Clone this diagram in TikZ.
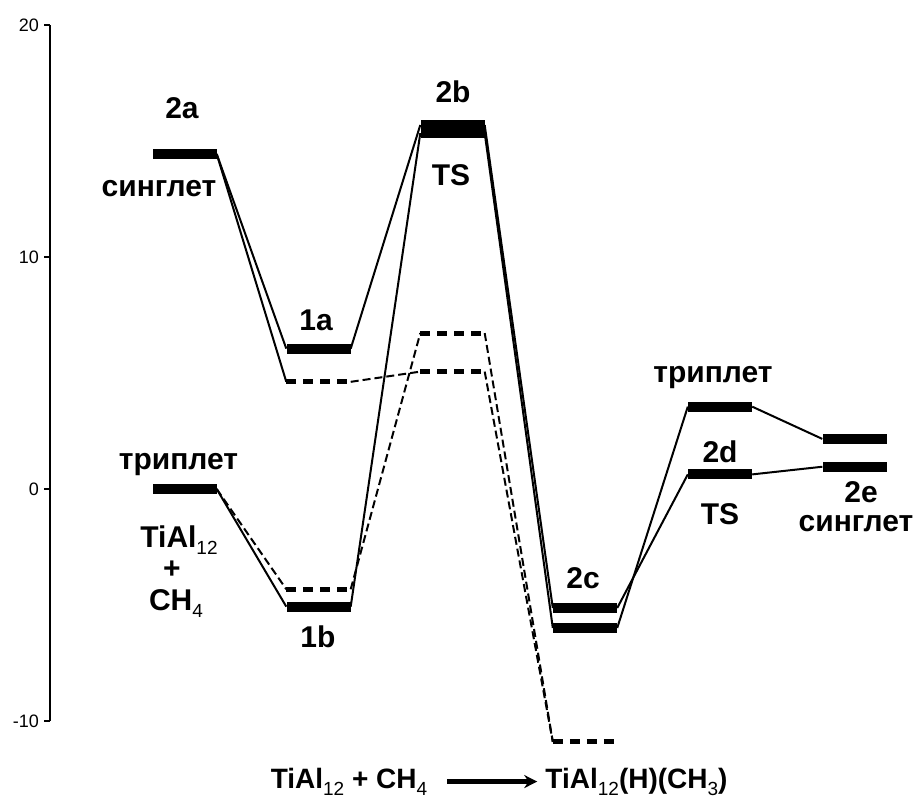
\documentclass[tikz,border=0pt]{standalone}
\usepackage{fontspec}
\setmainfont{Liberation Sans}
\usetikzlibrary{arrows.meta,positioning}
\newcommand{\ssub}[1]{\raisebox{-7pt}{\fontsize{19}{19}\selectfont\mdseries #1}}
\tikzset{
  lev/.style={fill=black,minimum width=64pt,minimum height=10pt,inner sep=0pt},
  dlev/.style={minimum width=64pt,minimum height=0pt,inner sep=0pt},
  dseg/.style={line width=5pt,dash pattern=on 10pt off 7pt},
  con/.style={line width=2pt},
  dcon/.style={line width=2pt,dash pattern=on 8pt off 4pt},
  lbl/.style={font=\fontsize{30}{31}\selectfont\bfseries,anchor=base,inner sep=0pt},
  tk/.style={font=\fontsize{18}{18}\selectfont,anchor=east,inner sep=0pt},
  rarr/.style={-{Stealth[length=13pt,width=13pt]},line width=4.5pt}
}
\begin{document}
\begin{tikzpicture}[x=1pt,y=23.2pt]
\useasboundingbox (0,-13.534) rectangle (920,21.078);
% energy axis
\draw[line width=1.2pt] (50,20) -- (50,-10);
\foreach \v in {20,10,0,-10} {
  \draw[line width=1.2pt] (44,\v) -- (50,\v);
  \node[tk] (tk\v) at (39,\v) {\v};
}
% levels
\foreach \n/\x/\y in {n2a/184.5/14.44, n0/184.5/0, n1a/318.5/6.05, n1b/318.5/-5.07, n2bu/452.5/15.69, n2bl/452.5/15.34, n2cu/585/-5.13, n2cl/585/-5.99, n3t/720/3.55, n2d/720/0.63, n2eu/854.5/2.16, n2el/854.5/0.96}
  \node[lev] (\n) at (\x,\y) {};
\foreach \n/\x/\y in {d1a/318.5/4.62, d1b/318.5/-4.32, dtu/452.5/6.72, dtl/452.5/5.06, dbot/585/-10.9}
  \node[dlev] (\n) at (\x,\y) {};
\foreach \n in {d1a,d1b,dtu,dtl,dbot} \draw[dseg] (\n.west) -- (\n.east);
% pathways
\draw[con] (n2a.east) -- (n1a.west);
\draw[con] (n2a.east) -- (d1a.west);
\draw[con] (n0.east) -- (n1b.west);
\draw[dcon] (n0.east) -- (d1b.west);
\draw[con] (n1a.east) -- (n2bu.west);
\draw[con] (n1b.east) -- (n2bl.west);
\draw[dcon] (d1a.east) -- (dtl.west);
\draw[dcon] (d1b.east) -- (dtu.west);
\draw[con] (n2bu.east) -- (n2cu.west);
\draw[con] (n2bl.east) -- (n2cl.west);
\draw[dcon] (dtu.east) -- (dbot.west);
\draw[dcon] (dtl.east) -- (dbot.west);
\draw[con] (n2cu.east) -- (n2d.west);
\draw[con] (n2cl.east) -- (n3t.west);
\draw[con] (n3t.east) -- (n2eu.west);
\draw[con] (n2d.east) -- (n2el.west);
% labels
\node[lbl] (l2a) at (182,15.99) {2a};
\node[lbl] (ls1) at (159,12.59) {синглет};
\node[lbl] (l1a) at (316,6.85) {1a};
\node[lbl] (l2b) at (453,16.64) {2b};
\node[lbl] (lts1) at (451,13.1) {TS};
\node[lbl] (lt1) at (178.5,0.82) {триплет};
\node[lbl] (lr1) at (179,-2.54) {TiAl\ssub{12}};
\node[lbl] (lr2) at (172,-3.84) {+};
\node[lbl] (lr3) at (176,-5.22) {CH\ssub{4}};
\node[lbl] (l1b) at (318,-6.85) {1b};
\node[lbl] (l2c) at (583,-4.27) {2c};
\node[lbl] (lt2) at (713,4.57) {триплет};
\node[lbl] (l2d) at (720,1.16) {2d};
\node[lbl] (lts2) at (720,-1.55) {TS};
\node[lbl] (l2e) at (861,-0.56) {2e};
\node[lbl] (ls2) at (856,-1.85) {синглет};
% reaction
\node[lbl,font=\fontsize{28}{28}\selectfont\bfseries] (lhs) at (349,-12.89) {TiAl\ssub{12} + CH\ssub{4}};
\node[lbl,font=\fontsize{28}{28}\selectfont\bfseries] (rhs) at (636.5,-12.89) {TiAl\ssub{12}(H)(CH\ssub{3})};
\draw[rarr] ([xshift=20pt,yshift=6.5pt]lhs.base east) -- ([xshift=-8pt,yshift=6.5pt]rhs.base west);
\end{tikzpicture}
\end{document}
